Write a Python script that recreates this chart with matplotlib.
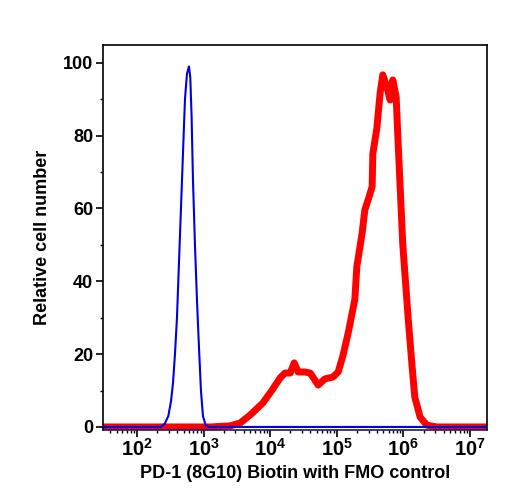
import matplotlib
matplotlib.use("Agg")
import matplotlib.pyplot as plt
import matplotlib.ticker as mticker
import numpy as np

plt.rcParams['font.family'] = ['Liberation Sans', 'DejaVu Sans']
plt.rcParams['font.weight'] = 'bold'
plt.rcParams['mathtext.fontset'] = 'custom'
plt.rcParams['mathtext.rm'] = 'Liberation Sans:bold'
plt.rcParams['mathtext.bf'] = 'Liberation Sans:bold'
plt.rcParams['mathtext.default'] = 'rm'

# FMO control (blue), log10 intensity vs relative count
fmo_log = [1.49, 2.36, 2.42, 2.47, 2.51, 2.54, 2.57, 2.60, 2.63, 2.66, 2.69, 2.72,
           2.75, 2.78, 2.80, 2.82, 2.84, 2.87, 2.90, 2.93, 2.96, 2.99, 3.03, 3.08, 7.26]
fmo_val = [0, 0, 1, 3, 7, 12, 20, 30, 45, 60, 75, 90,
           97, 99, 96, 85, 68, 50, 35, 22, 10, 3, 0.5, 0, 0]

# PD-1 (8G10) Biotin stained sample (red)
pd1_log = [1.49, 3.10, 3.40, 3.55, 3.70, 3.89, 4.03, 4.15, 4.22, 4.30, 4.36, 4.42,
           4.52, 4.60, 4.72, 4.82, 4.94, 5.02, 5.09, 5.17, 5.27, 5.30, 5.38, 5.42,
           5.47, 5.53, 5.54, 5.60, 5.65, 5.69, 5.75, 5.80, 5.84, 5.89, 5.92, 5.95,
           5.99, 6.03, 6.07, 6.13, 6.17, 6.25, 6.35, 6.50, 7.26]
pd1_val = [0, 0, 0.3, 1.1, 3.3, 6.6, 10.2, 13.5, 14.8, 14.8, 17.6, 15.1,
           15.1, 14.8, 11.5, 13.2, 13.7, 15.1, 19.5, 25.8, 35, 44, 53.3, 59.6,
           62.4, 66, 75, 82, 91.8, 96.7, 93.4, 89.8, 95.3, 90.7, 78, 66,
           50, 40, 30, 16.5, 8.2, 2.7, 0.5, 0, 0]

fig = plt.figure(figsize=(5.08, 5.00), dpi=100)
ax = fig.add_axes([0.2028, 0.141, 0.756, 0.769])

ax.plot(10 ** np.array(fmo_log), fmo_val, color='#0000e0', lw=1.5, zorder=3)
ax.plot(10 ** np.array(pd1_log), pd1_val, color='#ff0000', lw=5, zorder=2,
        solid_joinstyle='round')

ax.set_xscale('log')
ax.set_xlim(10 ** 1.49, 10 ** 7.255)
ax.set_ylim(-0.7, 104.9)

ax.xaxis.set_major_locator(mticker.FixedLocator([1e2, 1e3, 1e4, 1e5, 1e6, 1e7]))
ax.xaxis.set_major_formatter(mticker.FuncFormatter(
    lambda v, p: r'$10^{%d}$' % round(np.log10(v))))
ax.xaxis.set_minor_locator(mticker.LogLocator(base=10, subs=np.arange(2, 10), numticks=20))
ax.xaxis.set_minor_formatter(mticker.NullFormatter())

ax.yaxis.set_major_locator(mticker.MultipleLocator(20))
ax.yaxis.set_minor_locator(mticker.MultipleLocator(10))

ax.tick_params(which='major', direction='out', length=5, width=1.2,
               labelsize=13, pad=2)
ax.tick_params(which='minor', direction='out', length=2.5, width=1)
ax.tick_params(axis='x', which='major', labelsize=14.5, pad=1)

for s in ax.spines.values():
    s.set_linewidth(1.2)
ax.spines['bottom'].set_color('#1a1a70')

ax.set_xlabel('PD-1 (8G10) Biotin with FMO control', fontsize=13, fontweight='bold', labelpad=4)
ax.set_ylabel('Relative cell number', fontsize=13, fontweight='bold', labelpad=9)

fig.savefig('out.png', dpi=100)
